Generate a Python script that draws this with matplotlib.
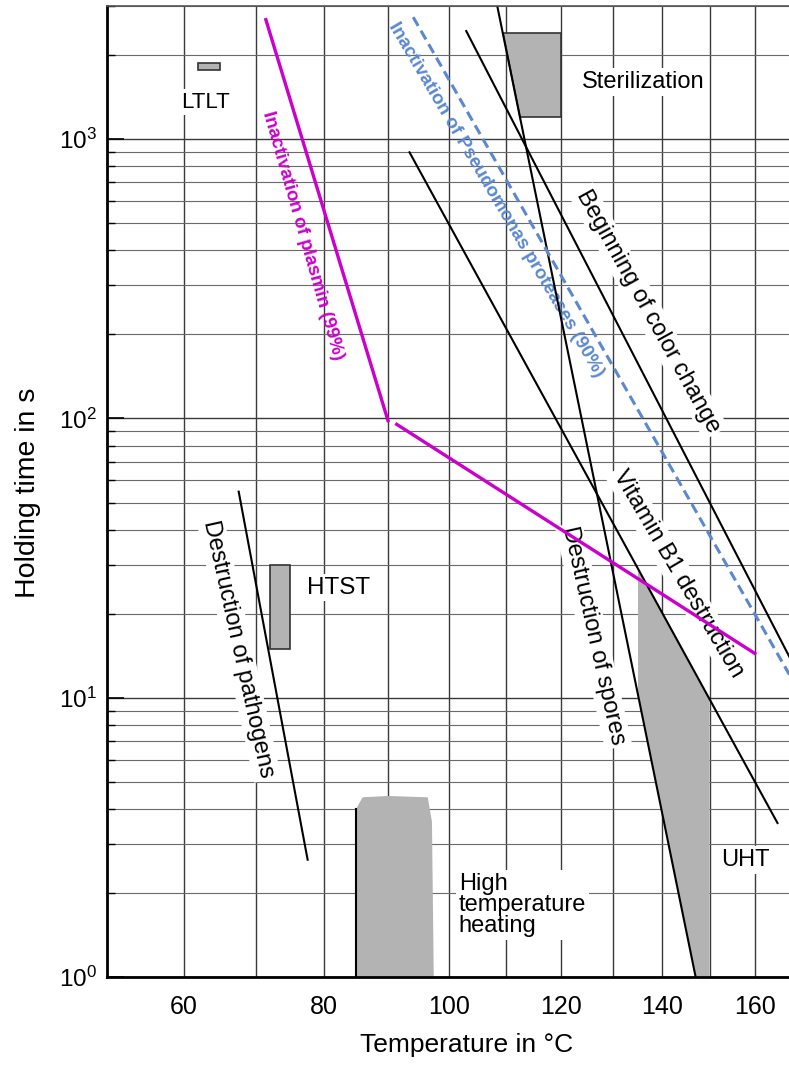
import numpy as np
import matplotlib
matplotlib.use("Agg")
import matplotlib.pyplot as plt
from matplotlib import font_manager
from matplotlib.patches import Polygon
from matplotlib.ticker import FixedLocator, LogLocator, NullFormatter

plt.rcParams['font.family'] = ['Liberation Sans', 'DejaVu Sans']
plt.rcParams['mathtext.fontset'] = 'custom'
plt.rcParams['mathtext.rm'] = 'Liberation Sans'
plt.rcParams['mathtext.it'] = 'Liberation Sans:italic'

# Данные: температура (°C) и время выдержки (с)
plasmin_T1 = [71.4, 90.1]
plasmin_t1 = [2716, 97]
plasmin_T2 = [91.2, 160.4]
plasmin_t2 = [96, 14.3]
pseudo_T = [94.1, 168.1]
pseudo_t = [2737, 12.1]
color_T = [103.0, 168.1]
color_t = [2440, 14.0]
vitamin_T = [93.5, 165.3]
vitamin_t = [898, 3.56]
spores_T = [108.4, 147.0]
spores_t = [3000, 1.0]
pathogens_T = [67.6, 77.6]
pathogens_t = [54.7, 2.63]

# Области процессов
ltlt_T = [62, 65, 65, 62]
ltlt_t = [1770, 1770, 1870, 1870]
htst_T = [72, 75, 75, 72]
htst_t = [15, 15, 30, 30]
steril_T = [109.4, 120, 120, 112.5]
steril_t = [2400, 2400, 1200, 1200]
uht_T = [135, 150, 150, 147, 135]
uht_t = [28.8, 9.9, 1, 1, 10.2]
hth_T = [85, 85, 86, 90, 96.5, 97.2, 97.5]
hth_t = [1, 4.0, 4.4, 4.45, 4.4, 3.6, 1]

x_major = [60, 80, 100, 120, 140, 160]
x_minor = [70, 90, 110, 130, 150]

names = {f.name for f in font_manager.fontManager.ttflist}
if 'Liberation Sans Narrow' in names:
    narrow = ['Liberation Sans Narrow', 'DejaVu Sans']
    nsize = 16
else:
    narrow = ['Liberation Sans', 'DejaVu Sans']
    nsize = 13.5


# Шкала Аррениуса (1/T)
def fwd(T):
    return -1.0 / (np.asarray(T, dtype=float) + 273.15)


def inv(u):
    with np.errstate(divide='ignore'):
        return -1.0 / np.asarray(u, dtype=float) - 273.15


fig = plt.figure(figsize=(7.89, 10.65), dpi=100)
ax = fig.add_axes([107 / 789, 88 / 1065, 682 / 789, 971 / 1065])
ax.set_xscale('function', functions=(fwd, inv))
ax.set_yscale('log')
ax.set_xlim(50, 168)
ax.set_ylim(1, 3000)

ax.xaxis.set_major_locator(FixedLocator(x_major))
ax.xaxis.set_minor_locator(FixedLocator(x_minor))
ax.xaxis.set_minor_formatter(NullFormatter())
ax.yaxis.set_major_locator(LogLocator(base=10))
ax.yaxis.set_minor_locator(LogLocator(base=10, subs=np.arange(2, 10)))
ax.yaxis.set_minor_formatter(NullFormatter())

ax.set_axisbelow(True)
ax.grid(True, which='major', color='#3a3a3a', lw=1.0)
ax.grid(True, which='minor', axis='x', color='#3a3a3a', lw=1.0)
ax.grid(True, which='minor', axis='y', color='#6a6a6a', lw=0.8)

ax.tick_params(axis='x', which='both', length=0, labelsize=18, pad=13)
ax.tick_params(axis='y', which='major', direction='in', length=12, width=1.2,
               labelsize=17.5, pad=7)
ax.tick_params(axis='y', which='minor', direction='in', length=6, width=1.0)

ax.spines['left'].set_linewidth(2)
ax.spines['bottom'].set_linewidth(2)
ax.spines['top'].set_linewidth(1.2)
ax.spines['top'].set_color('#555555')
ax.spines['right'].set_visible(False)

# Закрашенные области
gray = '#b3b3b3'
ax.add_patch(Polygon(list(zip(ltlt_T, ltlt_t)), closed=True, fc=gray, ec='#333333', lw=1.2, zorder=1.8))
ax.add_patch(Polygon(list(zip(htst_T, htst_t)), closed=True, fc=gray, ec='#333333', lw=1.2, zorder=1.8))
ax.add_patch(Polygon(list(zip(steril_T, steril_t)), closed=True, fc=gray, ec='#333333', lw=1.2, zorder=1.8))
ax.add_patch(Polygon(list(zip(uht_T, uht_t)), closed=True, fc=gray, ec='none', zorder=1.8))
ax.add_patch(Polygon(list(zip(hth_T, hth_t)), closed=True, fc=gray, ec='none', zorder=1.8))
ax.plot([hth_T[0], hth_T[1]], [hth_t[0], hth_t[1]], color='black', lw=1.5, zorder=2)

# Линии
ax.plot(plasmin_T1, plasmin_t1, color='#cc00cc', lw=2.4, solid_capstyle='butt', zorder=3)
ax.plot(plasmin_T2, plasmin_t2, color='#cc00cc', lw=2.4, solid_capstyle='butt', zorder=3)
ax.plot(pseudo_T, pseudo_t, color='#5b88cf', lw=2.2, dashes=(3.3, 1.8), zorder=3)
for T, t in [(color_T, color_t), (vitamin_T, vitamin_t), (spores_T, spores_t),
             (pathogens_T, pathogens_t)]:
    ax.plot(T, t, color='black', lw=1.5, zorder=2.5)

# Подписи
box = dict(fc='white', ec='none', pad=2)
ax.text(63, 1357, 'LTLT', fontsize=16, ha='center', va='center', bbox=box, zorder=1.5)
ax.text(136, 1600, 'Sterilization', fontsize=17, ha='center', va='center', bbox=box, zorder=1.5)
ax.text(82.3, 24.8, 'HTST', fontsize=17.5, ha='center', va='center', bbox=box, zorder=1.5)
ax.text(158, 2.63, 'UHT', fontsize=17, ha='center', va='center', bbox=box, zorder=1.5)
ax.text(101.7, 1.81, 'High\ntemperature\nheating', fontsize=17, ha='left', va='center',
        linespacing=0.95, bbox=box, zorder=1.5)

ax.text(76.9, 450, 'Inactivation of plasmin (99%)', family=narrow, fontsize=nsize,
        fontweight='bold', color='#cc00cc', rotation=-74, ha='center', va='center',
        rotation_mode='anchor', zorder=1.6)
ax.text(108.1, 609, 'Inactivation of Pseudomonas proteases (90%)', family=narrow,
        fontsize=nsize, fontweight='bold', color='#5b88cf', rotation=-59.5,
        ha='center', va='center', rotation_mode='anchor', zorder=1.6)
ax.text(137.1, 242, 'Beginning of color change', fontsize=17, rotation=-61,
        ha='center', va='center', rotation_mode='anchor', bbox=box, zorder=1.5)
ax.text(143.2, 27.8, 'Vitamin B1 destruction', fontsize=17, rotation=-59.5,
        ha='center', va='center', rotation_mode='anchor', bbox=box, zorder=1.5)
ax.text(126.2, 16.7, 'Destruction of spores', fontsize=17, rotation=-77.3,
        ha='center', va='center', rotation_mode='anchor', bbox=box, zorder=1.5)
ax.text(67.6, 15.0, 'Destruction of pathogens', fontsize=17, rotation=-77.5,
        ha='center', va='center', rotation_mode='anchor', bbox=box, zorder=1.5)

ax.set_xlabel('Temperature in °C', fontsize=19)
ax.set_ylabel('Holding time in s', fontsize=20.5)
ax.xaxis.set_label_coords((467 - 107) / 682, -(1033 - 977) / 971)
ax.yaxis.set_label_coords((41 - 107) / 682, (977 - 493) / 971)

fig.savefig('out.png', dpi=100)
